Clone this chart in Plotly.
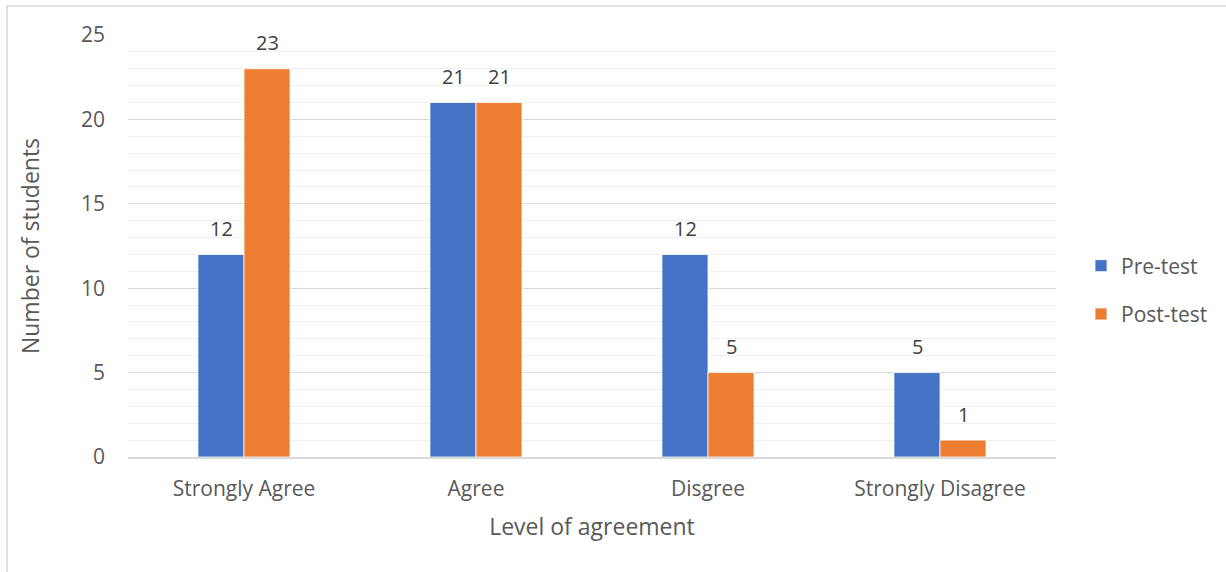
import plotly.graph_objects as go

categories = ["Strongly Agree", "Agree", "Disgree", "Strongly Disagree"]
pre_test = [12, 21, 12, 5]
post_test = [23, 21, 5, 1]
series_names = ["Pre-test", "Post-test"]
colors = ["#4472C4", "#ED7D31"]
y_ticks = [0, 5, 10, 15, 20, 25]

FONT = "Open Sans"
TXT = "#595959"

L, R, T, B = 128, 170, 35, 115
W, H = 1226, 572
pw, ph = W - L - R, H - T - B
bar_px = 46

fig = go.Figure()
for i, (name, vals, col) in enumerate(zip(series_names, [pre_test, post_test], colors)):
    fig.add_trace(go.Bar(
        x=categories, y=vals, name=name, legendgroup=name,
        marker=dict(color=col, line=dict(color="white", width=0.8)),
    ))
    shift = (-bar_px / 2) if i == 0 else (bar_px / 2)
    for c, v in zip(categories, vals):
        fig.add_annotation(x=c, y=v, xref="x", yref="y", text=str(v),
                           showarrow=False, xshift=shift, yshift=26,
                           font=dict(family=FONT, size=20, color="#404040"))

fig.update_layout(
    width=W, height=H,
    margin=dict(l=L, r=R, t=T, b=B, autoexpand=False),
    paper_bgcolor="white", plot_bgcolor="white",
    barmode="group", bargap=0.603, bargroupgap=0,
    font=dict(family=FONT, color=TXT, size=20),
    legend=dict(x=(1081 - L) / pw, y=(H - B - 290) / ph, xanchor="left", yanchor="middle",
                font=dict(family=FONT, size=21, color=TXT),
                traceorder="grouped", tracegroupgap=18, itemwidth=30),
    xaxis=dict(
        title=dict(text="Level of agreement", font=dict(family=FONT, size=23, color=TXT), standoff=18),
        showline=True, linecolor="#D9D9D9", linewidth=1.5,
        tickfont=dict(family=FONT, size=21, color=TXT), ticks="",
        ticklabelstandoff=12,
        showgrid=False, automargin=False,
    ),
    yaxis=dict(
        title=dict(text="Number of students", font=dict(family=FONT, size=23, color=TXT), standoff=34),
        range=[0, 25], tickvals=y_ticks, ticks="",
        tickfont=dict(family=FONT, size=21, color=TXT),
        ticklabelstandoff=22,
        showgrid=True, gridcolor="#D9D9D9", gridwidth=1,
        minor=dict(dtick=1, showgrid=True, gridcolor="#F0F0F0", gridwidth=1),
        zeroline=False, showline=False, automargin=False,
    ),
    showlegend=True,
)

# outer chart border
fig.add_shape(type="rect", xref="paper", yref="paper",
              x0=(7 - L) / pw, x1=(1228 - L) / pw,
              y0=(H - B - 580) / ph, y1=(H - B - 6) / ph,
              line=dict(color="#D9D9D9", width=1.5), fillcolor="rgba(0,0,0,0)", layer="below")

fig.write_html("out.html")
